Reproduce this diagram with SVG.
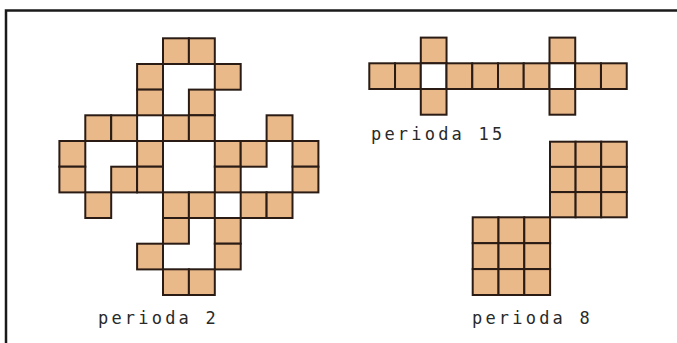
<svg xmlns="http://www.w3.org/2000/svg" width="677" height="343" viewBox="0 0 677 343">
<style>
.c{fill:#eab98a;stroke:#2a1c14;stroke-width:2}
.w{fill:#ffffff;stroke:#2a1c14;stroke-width:2}
.t{font-family:"DejaVu Sans Mono","Liberation Mono",monospace;font-size:17px;letter-spacing:3.2px;fill:#2a2a2a}
.f{stroke:#1a1a1a;stroke-width:2.5;fill:none}
</style>
<rect width="677" height="343" fill="#ffffff"/>
<g id="frame"><path class="f" d="M6 343 V10.5 H677"/></g>
<g id="perioda2" transform="translate(59.4 38.3)">
<rect class="c" x="103.6" y="0" width="25.9" height="25.7"/>
<rect class="c" x="129.5" y="0" width="25.9" height="25.7"/>
<rect class="c" x="77.7" y="25.7" width="25.9" height="25.7"/>
<rect class="c" x="155.4" y="25.7" width="25.9" height="25.7"/>
<rect class="c" x="77.7" y="51.3" width="25.9" height="25.7"/>
<rect class="c" x="129.5" y="51.3" width="25.9" height="25.7"/>
<rect class="c" x="25.9" y="77" width="25.9" height="25.7"/>
<rect class="c" x="51.8" y="77" width="25.9" height="25.7"/>
<rect class="c" x="103.6" y="77" width="25.9" height="25.7"/>
<rect class="c" x="129.5" y="77" width="25.9" height="25.7"/>
<rect class="c" x="207.2" y="77" width="25.9" height="25.7"/>
<rect class="c" x="0" y="102.7" width="25.9" height="25.7"/>
<rect class="c" x="77.7" y="102.7" width="25.9" height="25.7"/>
<rect class="c" x="155.4" y="102.7" width="25.9" height="25.7"/>
<rect class="c" x="181.3" y="102.7" width="25.9" height="25.7"/>
<rect class="c" x="233.1" y="102.7" width="25.9" height="25.7"/>
<rect class="c" x="0" y="128.4" width="25.9" height="25.7"/>
<rect class="c" x="51.8" y="128.4" width="25.9" height="25.7"/>
<rect class="c" x="77.7" y="128.4" width="25.9" height="25.7"/>
<rect class="c" x="155.4" y="128.4" width="25.9" height="25.7"/>
<rect class="c" x="233.1" y="128.4" width="25.9" height="25.7"/>
<rect class="c" x="25.9" y="154" width="25.9" height="25.7"/>
<rect class="c" x="103.6" y="154" width="25.9" height="25.7"/>
<rect class="c" x="129.5" y="154" width="25.9" height="25.7"/>
<rect class="c" x="181.3" y="154" width="25.9" height="25.7"/>
<rect class="c" x="207.2" y="154" width="25.9" height="25.7"/>
<rect class="c" x="103.6" y="179.7" width="25.9" height="25.7"/>
<rect class="c" x="155.4" y="179.7" width="25.9" height="25.7"/>
<rect class="c" x="77.7" y="205.4" width="25.9" height="25.7"/>
<rect class="c" x="155.4" y="205.4" width="25.9" height="25.7"/>
<rect class="c" x="103.6" y="231" width="25.9" height="25.7"/>
<rect class="c" x="129.5" y="231" width="25.9" height="25.7"/>
</g>
<g id="perioda15" transform="translate(369.3 37.6)">
<rect class="c" x="51.5" y="0" width="25.74" height="25.7"/>
<rect class="c" x="180.2" y="0" width="25.74" height="25.7"/>
<rect class="c" x="0" y="25.7" width="25.74" height="25.7"/>
<rect class="c" x="25.74" y="25.7" width="25.74" height="25.7"/>
<rect class="w" x="51.5" y="25.7" width="25.74" height="25.7"/>
<rect class="c" x="77.2" y="25.7" width="25.74" height="25.7"/>
<rect class="c" x="103" y="25.7" width="25.74" height="25.7"/>
<rect class="c" x="128.7" y="25.7" width="25.74" height="25.7"/>
<rect class="c" x="154.4" y="25.7" width="25.74" height="25.7"/>
<rect class="w" x="180.2" y="25.7" width="25.74" height="25.7"/>
<rect class="c" x="205.9" y="25.7" width="25.74" height="25.7"/>
<rect class="c" x="231.7" y="25.7" width="25.74" height="25.7"/>
<rect class="c" x="51.5" y="51.4" width="25.74" height="25.7"/>
<rect class="c" x="180.2" y="51.4" width="25.74" height="25.7"/>
</g>
<g id="perioda8">
<g transform="translate(550 141.7)">
<rect class="c" x="0" y="0" width="25.6" height="25.2"/>
<rect class="c" x="25.6" y="0" width="25.6" height="25.2"/>
<rect class="c" x="51.2" y="0" width="25.6" height="25.2"/>
<rect class="c" x="0" y="25.2" width="25.6" height="25.2"/>
<rect class="c" x="25.6" y="25.2" width="25.6" height="25.2"/>
<rect class="c" x="51.2" y="25.2" width="25.6" height="25.2"/>
<rect class="c" x="0" y="50.4" width="25.6" height="25.2"/>
<rect class="c" x="25.6" y="50.4" width="25.6" height="25.2"/>
<rect class="c" x="51.2" y="50.4" width="25.6" height="25.2"/>
</g>
<g transform="translate(472.7 217.3)">
<rect class="c" x="0" y="0" width="25.8" height="25.9"/>
<rect class="c" x="25.8" y="0" width="25.8" height="25.9"/>
<rect class="c" x="51.6" y="0" width="25.8" height="25.9"/>
<rect class="c" x="0" y="25.9" width="25.8" height="25.9"/>
<rect class="c" x="25.8" y="25.9" width="25.8" height="25.9"/>
<rect class="c" x="51.6" y="25.9" width="25.8" height="25.9"/>
<rect class="c" x="0" y="51.8" width="25.8" height="25.9"/>
<rect class="c" x="25.8" y="51.8" width="25.8" height="25.9"/>
<rect class="c" x="51.6" y="51.8" width="25.8" height="25.9"/>
</g>
</g>
<g id="labels">
<text class="t" x="98" y="324">perioda 2</text>
<text class="t" x="371" y="140">perioda 15</text>
<text class="t" x="472" y="324">perioda 8</text>
</g>
</svg>
